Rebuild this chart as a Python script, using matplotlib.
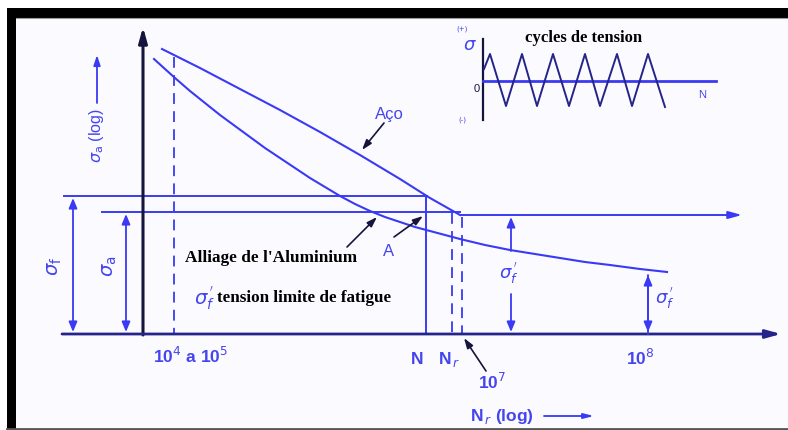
import matplotlib
matplotlib.use("Agg")
import matplotlib.pyplot as plt
from matplotlib.patches import Rectangle

# Schematic S-N (Wöhler) diagram, coordinates in drawing units (x right, y down)
steel_x = [162, 200, 240, 280, 320, 360, 400, 430, 460]
steel_y = [50, 69, 90, 111, 133, 156, 180, 199, 216]
alu_x = [154, 165, 175, 190, 205, 220, 235, 250, 265, 280, 295, 310, 325, 340, 355, 370,
         385, 400, 415, 430, 445, 460, 485, 510, 535, 560, 585, 610, 640, 667]
alu_y = [60, 70, 79, 92, 104, 116, 127, 138, 149, 159, 169, 179, 188, 197, 205, 212,
         218, 223, 228, 232, 236, 240, 246, 251, 255, 259, 263, 266, 270, 273]
wave_x = [484, 490, 506, 522, 537, 553, 569, 585, 600, 617, 632, 648, 665]
wave_y = [70, 55, 107, 55, 107, 55, 107, 55, 107, 55, 107, 55, 108]

tick_labels = {"10^4 a 10^5": 191, "N": 417, "N_r": 449, "10^8": 640}

BLUE = "#3a3af4"
TXT = "#4545ee"
DARK = "#14143c"

fig = plt.figure(figsize=(7.88, 4.31), dpi=100)
ax = fig.add_axes([0, 0, 1, 1])
ax.set_xlim(0, 788)
ax.set_ylim(431, 0)
ax.axis("off")

# frame
ax.add_patch(Rectangle((7, 9), 790, 421, facecolor="#fbfbff", edgecolor="none"))
ax.add_patch(Rectangle((7, 9), 9.5, 421, facecolor="black", edgecolor="none"))
ax.add_patch(Rectangle((7, 9), 790, 9.5, facecolor="black", edgecolor="none"))
ax.plot([16.5, 788], [19, 19], color="#9a9a9a", lw=0.8)
ax.plot([7, 788], [430, 430], color="#555555", lw=2)

def arrow(x0, y0, x1, y1, style="-|>", color=BLUE, lw=1.3, hw=0.25, hl=0.6):
    ax.annotate("", xy=(x1, y1), xytext=(x0, y0),
                arrowprops=dict(arrowstyle=f"{style},head_width={hw},head_length={hl}",
                                color=color, lw=lw, shrinkA=0, shrinkB=0))

# main axes
arrow(143, 336, 143, 28, color=DARK, lw=2.2, hw=0.25, hl=0.9)
arrow(62, 335, 781, 335, color="#24248a", lw=2.0, hw=0.25, hl=0.9)

# reference levels
ax.plot([64, 427], [197, 197], color=BLUE, lw=1.4)
ax.plot([102, 460], [213, 213], color=BLUE, lw=1.4)
arrow(460, 216, 742, 216, color=BLUE, lw=1.4, hw=0.22, hl=0.8)

# verticals
ax.plot([426, 426], [197, 335], color=BLUE, lw=1.4)
ax.plot([174, 174], [58, 335], color=BLUE, lw=1.3, ls=(0, (6, 4)))
ax.plot([452, 452], [214, 335], color=BLUE, lw=1.3, ls=(0, (6, 4)))
ax.plot([462, 462], [218, 335], color=BLUE, lw=1.3, ls=(0, (6, 4)))

# curves
ax.plot(steel_x, steel_y, color=BLUE, lw=1.5)
ax.plot(alu_x, alu_y, color=BLUE, lw=1.5)

# dimension arrows
arrow(73, 199, 73, 333, style="<|-|>", color=BLUE, lw=1.3)
arrow(126, 215, 126, 333, style="<|-|>", color=BLUE, lw=1.3)
arrow(511, 252, 511, 218, color=BLUE, lw=1.3)
arrow(511, 295, 511, 333, color=BLUE, lw=1.3)
arrow(648, 335, 648, 276, color=BLUE, lw=1.3)
arrow(648, 276, 648, 333, color=BLUE, lw=1.3)

ax.text(55, 266, r"$\sigma_\mathrm{f}$", rotation=90, color=TXT, fontsize=14, ha="center", va="center")
ax.text(110, 266, r"$\sigma_\mathrm{a}$", rotation=90, color=TXT, fontsize=14, ha="center", va="center")
ax.text(509, 274, r"$\sigma_f^{\,'}$", color=TXT, fontsize=13, ha="center", va="center")
ax.text(665, 299, r"$\sigma_f^{\,'}$", color=TXT, fontsize=13, ha="center", va="center")

# y label
ax.text(97, 136, r"$\sigma_\mathrm{a}$ (log)", rotation=90, color=TXT, fontsize=11.5,
        ha="center", va="center", family="Liberation Sans")
arrow(97, 104, 97, 56, color=BLUE, lw=1.3, hw=0.2, hl=0.6)

# x tick labels
sans = dict(color=TXT, family="Liberation Sans", fontweight="bold", fontsize=12.5)
ax.text(tick_labels["10^4 a 10^5"], 356, r"10$^{4}$ a 10$^{5}$", ha="center", va="center", **sans)
ax.text(tick_labels["N"], 360, "N", ha="center", va="center", **sans)
ax.text(tick_labels["N_r"], 360, r"N$_{\,r}$", ha="center", va="center", **sans)
ax.text(tick_labels["10^8"], 358, r"10$^{8}$", ha="center", va="center", **sans)
ax.text(492, 382, r"10$^{7}$", ha="center", va="center", **sans)
arrow(486, 372, 464, 339, color=DARK, lw=1.2, hw=0.2, hl=0.6)

# x axis title
ax.text(502, 417, r"N$_{\,r}$ (log)", ha="center", va="center", **sans)
arrow(544, 417, 594, 417, color=BLUE, lw=1.3, hw=0.15, hl=0.6)

# curve labels
ax.text(389, 115, "Aço", ha="center", va="center", color=TXT, family="Liberation Sans", fontsize=12)
arrow(384, 124, 362, 151, color=DARK, lw=1.2, hw=0.2, hl=0.6)
ax.text(389, 252, "A", ha="center", va="center", color=TXT, family="Liberation Sans", fontsize=12)
arrow(394, 238, 423, 217, color=DARK, lw=1.2, hw=0.2, hl=0.6)
ax.text(185, 258, "Alliage de l'Aluminium", ha="left", va="center", color="black",
        family="Liberation Serif", fontweight="bold", fontsize=12.4)
arrow(347, 248, 377, 218, color=DARK, lw=1.2, hw=0.2, hl=0.6)
ax.text(204, 298, r"$\sigma_f^{\,'}$", ha="center", va="center", color=TXT, fontsize=14)
ax.text(217, 298, "tension limite de fatigue", ha="left", va="center", color="black",
        family="Liberation Serif", fontweight="bold", fontsize=12.3)

# inset: stress cycles
ax.plot([483, 483], [40, 121], color=DARK, lw=1.6)
ax.plot([483, 716], [82, 82], color=BLUE, lw=2.0)
ax.plot(wave_x, wave_y, color="#24248a", lw=1.4)
ax.text(584, 38, "cycles de tension", ha="center", va="center", color="black",
        family="Liberation Serif", fontweight="bold", fontsize=12)
ax.text(470, 45, r"$\sigma$", ha="center", va="center", color=TXT, fontsize=13)
ax.text(462, 29, "(+)", ha="center", va="center", color=TXT, fontsize=5)
ax.text(462, 120, "(-)", ha="center", va="center", color=TXT, fontsize=5)
ax.text(477, 89, "0", ha="center", va="center", color=DARK, family="Liberation Sans", fontsize=8)
ax.text(702, 95, "N", ha="center", va="center", color=TXT, family="Liberation Sans", fontsize=8)

fig.savefig("out.png", dpi=100, facecolor="white")
